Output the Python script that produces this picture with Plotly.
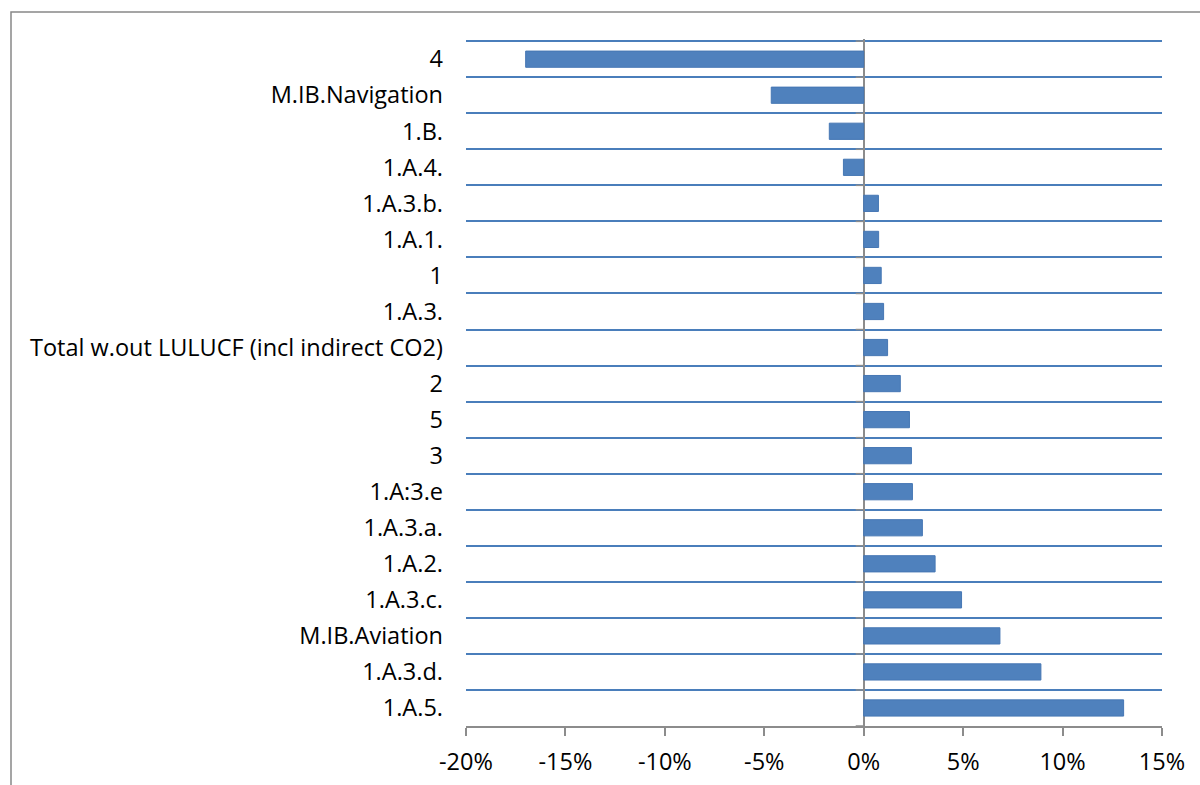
import plotly.graph_objects as go

# Categories listed top to bottom, with their change in percent
categories = [
    "4", "M.IB.Navigation", "1.B.", "1.A.4.", "1.A.3.b.", "1.A.1.", "1",
    "1.A.3.", "Total w.out LULUCF (incl indirect CO2)", "2", "5", "3",
    "1.A:3.e", "1.A.3.a.", "1.A.2.", "1.A.3.c.", "M.IB.Aviation",
    "1.A.3.d.", "1.A.5.",
]
change_pct = [
    -17.0, -4.65, -1.73, -1.02, 0.74, 0.75, 0.88,
    1.00, 1.20, 1.84, 2.30, 2.40,
    2.45, 2.95, 3.59, 4.92, 6.85,
    8.91, 13.07,
]
x_tick_values = [-20, -15, -10, -5, 0, 5, 10, 15]
x_tick_labels = ["-20%", "-15%", "-10%", "-5%", "0%", "5%", "10%", "15%"]

BAR = "#4f81bd"
BAR_EDGE = "#4677b4"
GRID = "#4a7ebb"
AXIS = "#8c8c8c"
FONT = "Open Sans"
FONT_SIZE = 23.5

W, H = 1200, 785
M_L, M_R, M_T, M_B = 466, 38, 39, 59
plot_w = W - M_L - M_R

n = len(categories)
x_min, x_max = x_tick_values[0], x_tick_values[-1]
pad = 0.06  # keeps the top boundary grid line inside the plotted range
y_range = [n - 0.5, -0.5 - pad]

# short tick marks on the left of the zero line, one per category boundary
tick_len = 8 * (x_max - x_min) / plot_w
tick_x, tick_y = [], []
for i in range(n + 1):
    tick_x += [-tick_len, 0, None]
    tick_y += [i - 0.5, i - 0.5, None]

fig = go.Figure()
fig.add_trace(go.Bar(
    y=categories, x=change_pct, orientation="h",
    marker=dict(color=BAR, line=dict(color=BAR_EDGE, width=1)),
    width=0.45, showlegend=False, hoverinfo="x+y",
))
fig.add_trace(go.Scatter(
    x=tick_x, y=tick_y, yaxis="y2", mode="lines",
    line=dict(color=AXIS, width=1.5), showlegend=False, hoverinfo="skip",
))

fig.update_layout(
    width=W, height=H,
    margin=dict(l=M_L, r=M_R, t=M_T, b=M_B),
    paper_bgcolor="white", plot_bgcolor="white",
    font=dict(family=FONT, size=FONT_SIZE, color="#000000"),
    xaxis=dict(
        range=[x_min, x_max], automargin=False,
        tickvals=x_tick_values, ticktext=x_tick_labels,
        showgrid=False,
        zeroline=True, zerolinecolor=AXIS, zerolinewidth=1.5,
        showline=True, linecolor=AXIS, linewidth=1.5,
        ticks="outside", ticklen=8, tickcolor=AXIS, tickwidth=1.5,
        ticklabelstandoff=6,
        tickfont=dict(family=FONT, size=FONT_SIZE, color="#000000"),
    ),
    yaxis=dict(
        type="category", automargin=False,
        categoryorder="array", categoryarray=categories,
        range=y_range,
        tickson="boundaries", ticks="",
        showgrid=True, gridcolor=GRID, gridwidth=1.5,
        showline=False, zeroline=False,
        ticklabelstandoff=22,
        tickfont=dict(family=FONT, size=FONT_SIZE, color="#000000"),
    ),
    yaxis2=dict(
        type="linear", overlaying="y", range=y_range, visible=False,
    ),
    shapes=[
        # outer chart frame
        dict(type="rect", xref="paper", yref="paper",
             x0=(11 - M_L) / plot_w, x1=1.2, y0=-0.2,
             y1=(H - M_B - 12) / (H - M_T - M_B),
             line=dict(color="#888888", width=1.5), fillcolor="rgba(0,0,0,0)",
             layer="below"),
    ],
)

fig.write_html("out.html")
